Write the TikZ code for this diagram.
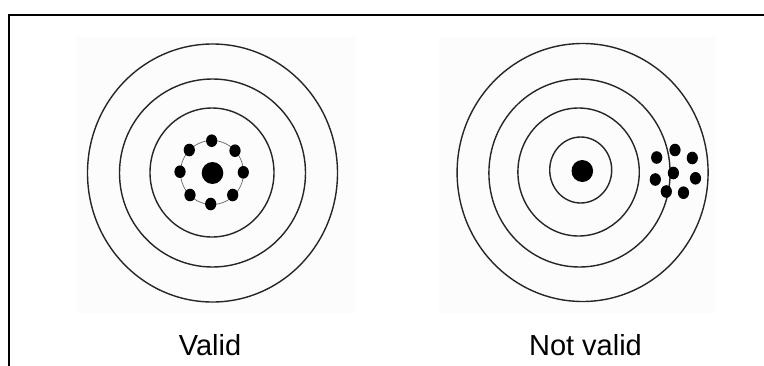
\documentclass[tikz,border=0pt]{standalone}
\usepackage{fontspec}
\setmainfont{Liberation Sans}
\begin{document}
\begin{tikzpicture}[x=1pt,y=-1pt,
  ring/.style={draw=black!85,line width=1.4pt},
  hit/.style={fill=black},
  label/.style={font=\fontsize{29}{34}\selectfont,anchor=base,inner sep=0pt},
  photo/.style={fill=black!1,draw=none}]
\useasboundingbox (0,0) rectangle (764,365);
\fill[white] (0,0) rectangle (764,365);
% faint photo backgrounds
\fill[photo] (76,37) rectangle (356,313);
\fill[photo] (439,37) rectangle (716,313);
% frame
\draw[line width=2.8pt,line cap=rect] (9,365) -- (9,15) -- (764,15);
% left target
\draw[ring] (212.5,173) ellipse [x radius=125pt,y radius=129pt];
\draw[ring] (212.5,173) ellipse [x radius=93pt,y radius=94pt];
\draw[ring] (212,172.5) ellipse [x radius=62pt,y radius=64.5pt];
\draw[black!60,line width=0.7pt] (212,172.5) ellipse [x radius=31.5pt,y radius=32pt];
\fill[hit] (212.5,173) ellipse [x radius=10.8pt,y radius=11pt];
\foreach \p in {(211.7,140.7),(235,150.7),(243.3,172.3),(232.7,195),(210.7,204),(190,195),(180,171.7),(189.3,150)}
  \fill[hit] \p ellipse [x radius=5.6pt,y radius=6.3pt];
% right target
\draw[ring] (582.6,172.5) ellipse [x radius=125.5pt,y radius=129pt];
\draw[ring] (579.5,173) ellipse [x radius=90.6pt,y radius=94pt];
\draw[ring] (578.6,172) ellipse [x radius=60.7pt,y radius=64pt];
\draw[ring] (580.7,170) ellipse [x radius=31pt,y radius=33pt];
\fill[hit] (582.3,171) ellipse [x radius=10.8pt,y radius=11pt];
\foreach \p in {(656.7,157.5),(675,150),(692.3,158),(655.3,179.5),(673.4,173),(695.5,178.3),(666.3,191.5),(683.5,192.7)}
  \fill[hit] \p ellipse [x radius=5.6pt,y radius=6.3pt];
% labels
\node[label] (valid) at (210,355) {Valid};
\node[label] (notvalid) at (585.5,355) {Not valid};
\end{tikzpicture}
\end{document}
